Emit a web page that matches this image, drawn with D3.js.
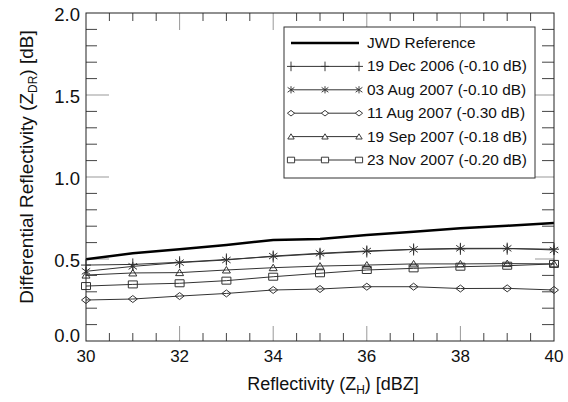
<!DOCTYPE html>
<meta charset="utf-8">
<style>
  body { margin: 0; background: #fff; }
  text { font-family: "Liberation Sans", Arial, Helvetica, sans-serif; fill: #111; }
</style>
<svg width="568" height="402"></svg>
<script src="https://d3js.org/d3.v7.min.js"></script>
<script>
// reflectivity bins (dBZ)
var zh = [30, 31, 32, 33, 34, 35, 36, 37, 38, 39, 40]
// ZDR per bin (dB)
var jwd    = [0.498, 0.535, 0.559, 0.585, 0.616, 0.622, 0.646, 0.666, 0.687, 0.703, 0.720]
var dec19  = [0.463, 0.467, 0.480, 0.497, 0.515, 0.532, 0.546, 0.558, 0.562, 0.563, 0.560]
var aug03  = [0.425, 0.455, 0.478, 0.494, 0.518, 0.535, 0.549, 0.559, 0.565, 0.565, 0.555]
var aug11  = [0.250, 0.256, 0.274, 0.290, 0.311, 0.317, 0.331, 0.331, 0.320, 0.321, 0.311]
var sep19  = [0.402, 0.415, 0.417, 0.433, 0.447, 0.457, 0.463, 0.470, 0.470, 0.472, 0.470]
var nov23  = [0.335, 0.345, 0.352, 0.368, 0.392, 0.413, 0.433, 0.443, 0.453, 0.459, 0.470]

var labels = ['JWD Reference', '19 Dec 2006 (-0.10 dB)', '03 Aug 2007 (-0.10 dB)',
  '11 Aug 2007 (-0.30 dB)', '19 Sep 2007 (-0.18 dB)', '23 Nov 2007 (-0.20 dB)']
var xTicks = [30, 32, 34, 36, 38, 40]
var yTicks = [0, 0.5, 1.0, 1.5, 2.0]

var series = [
  { name: labels[0], values: jwd, marker: null },
  { name: labels[1], values: dec19, marker: 'plus' },
  { name: labels[2], values: aug03, marker: 'star' },
  { name: labels[3], values: aug11, marker: 'diamond' },
  { name: labels[4], values: sep19, marker: 'triangle' },
  { name: labels[5], values: nov23, marker: 'square' }
]

var pLeft = 86, pTop = 13, pRight = 554, pBottom = 341

var x = d3.scaleLinear().domain([30, 40]).range([pLeft, pRight])
var y = d3.scaleLinear().domain([0, 2]).range([pBottom, pTop])

var svg = d3.select('svg')

// marker shapes, centred on 0,0
function markerPath(type) {
  if (type == 'plus') return 'M0,-6V6M-5,0H5'
  if (type == 'star') return 'M0,-4.5V4.5M-4.2,-3L4.2,3M-4.2,3L4.2,-3'
  if (type == 'diamond') return 'M-4.5,0L0,-3.5L4.5,0L0,3.5Z'
  if (type == 'triangle') return 'M-4,3L0,-3.5L4,3Z'
  if (type == 'square') return 'M-4.5,-3.5H4.5V3.5H-4.5Z'
  return ''
}

// ticks: minor then major, all pointing inward
function ticks(vals, axis, len, color) {
  var g = svg.append('g')
  vals.forEach(function (v) {
    var l = g.append('line').attr('stroke', color).attr('stroke-width', 1)
    if (axis == 'bottom') l.attr('x1', x(v)).attr('x2', x(v)).attr('y1', pBottom).attr('y2', pBottom - len)
    if (axis == 'top') l.attr('x1', x(v)).attr('x2', x(v)).attr('y1', pTop).attr('y2', pTop + len)
    if (axis == 'left') l.attr('y1', y(v)).attr('y2', y(v)).attr('x1', pLeft).attr('x2', pLeft + len)
    if (axis == 'right') l.attr('y1', y(v)).attr('y2', y(v)).attr('x1', pRight).attr('x2', pRight - len)
  })
}
var xMinor = d3.range(30.5, 40, 0.5).filter(function (v) { return v % 2 != 0 })
var xMajor = xTicks.slice(1, -1)
var yMinor = d3.range(1, 20).map(function (i) { return i / 10 }).filter(function (v, i) { return (i + 1) % 5 != 0 })
var yMajor = yTicks.slice(1, -1)
ticks(xMinor, 'bottom', 8, '#444'); ticks(xMajor, 'bottom', 15, '#999')
ticks(xMinor, 'top', 8, '#444'); ticks(xMajor, 'top', 17, '#999')
ticks(yMinor, 'left', 11, '#444'); ticks(yMajor, 'left', 23, '#999')
ticks(yMinor, 'right', 12, '#444'); ticks(yMajor, 'right', 19, '#999')

// series lines
var line = d3.line().x(function (d, i) { return x(zh[i]) }).y(function (d) { return y(d) })
series.forEach(function (s) {
  svg.append('path')
    .attr('d', line(s.values))
    .attr('fill', 'none')
    .attr('stroke', s.marker ? '#333' : '#000')
    .attr('stroke-width', s.marker ? 1 : 2.5)
  if (s.marker) {
    svg.append('g').selectAll('path')
      .data(s.values)
      .enter().append('path')
        .attr('transform', function (d, i) { return 'translate(' + x(zh[i]) + ',' + y(d) + ')' })
        .attr('d', markerPath(s.marker))
        .attr('fill', 'none')
        .attr('stroke', '#333')
        .attr('stroke-width', 1)
  }
})

// frame
svg.append('rect')
  .attr('x', pLeft).attr('y', pTop)
  .attr('width', pRight - pLeft).attr('height', pBottom - pTop)
  .attr('fill', 'none').attr('stroke', '#222').attr('stroke-width', 1)

// tick labels
svg.append('g').selectAll('text')
  .data(xTicks)
  .enter().append('text')
    .attr('x', function (d) { return x(d) })
    .attr('y', 362)
    .attr('text-anchor', 'middle')
    .attr('font-size', 17)
    .text(function (d) { return d })
svg.append('g').selectAll('text')
  .data(yTicks)
  .enter().append('text')
    .attr('x', 80)
    .attr('y', function (d) { return d == 0 ? y(d) + 1 : y(d) + 8 })
    .attr('text-anchor', 'end')
    .attr('font-size', 18.5)
    .text(function (d) { return d3.format('.1f')(d) })

// axis titles
var xt = svg.append('text')
  .attr('x', 333).attr('y', 390)
  .attr('text-anchor', 'middle')
  .attr('font-size', 18)
xt.append('tspan').text('Reflectivity (Z')
xt.append('tspan').attr('font-size', 12).attr('dy', 4).text('H')
xt.append('tspan').attr('dy', -4).text(') [dBZ]')

var yt = svg.append('text')
  .attr('transform', 'translate(33,167) rotate(-90)')
  .attr('text-anchor', 'middle')
  .attr('font-size', 19)
yt.append('tspan').text('Differential Reflectivity (Z')
yt.append('tspan').attr('font-size', 12).attr('dy', 4).text('DR')
yt.append('tspan').attr('dy', -4).text(') [dB]')

// legend
var lg = svg.append('g')
lg.append('rect')
  .attr('x', 284).attr('y', 27).attr('width', 251).attr('height', 151)
  .attr('fill', '#fff').attr('stroke', '#333').attr('stroke-width', 1)
series.forEach(function (s, i) {
  var cy = 43 + i * 23.4
  lg.append('line')
    .attr('x1', 291).attr('x2', 359).attr('y1', cy).attr('y2', cy)
    .attr('stroke', s.marker ? '#333' : '#000')
    .attr('stroke-width', s.marker ? 1 : 2.5)
  if (s.marker) {
    [291, 325, 359].forEach(function (mx) {
      lg.append('path')
        .attr('transform', 'translate(' + mx + ',' + cy + ') scale(0.8)')
        .attr('d', markerPath(s.marker))
        .attr('fill', s.marker == 'plus' || s.marker == 'star' ? 'none' : '#fff')
        .attr('stroke', '#333')
        .attr('stroke-width', 1.2)
    })
  }
  lg.append('text')
    .attr('x', 367).attr('y', cy + 5)
    .attr('font-size', 15.4)
    .text(s.name)
})
</script>
